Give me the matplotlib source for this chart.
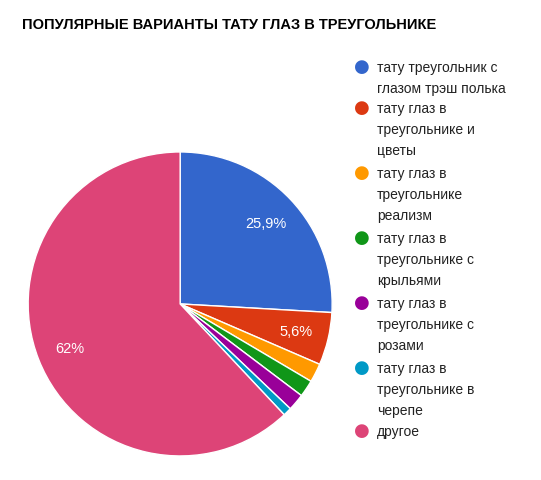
import matplotlib
matplotlib.use("Agg")
import matplotlib.pyplot as plt

plt.rcParams['font.family'] = ['Liberation Sans', 'DejaVu Sans']

title = "ПОПУЛЯРНЫЕ ВАРИАНТЫ ТАТУ ГЛАЗ В ТРЕУГОЛЬНИКЕ"
labels = ["тату треугольник с\nглазом трэш полька",
          "тату глаз в\nтреугольнике и\nцветы",
          "тату глаз в\nтреугольнике\nреализм",
          "тату глаз в\nтреугольнике с\nкрыльями",
          "тату глаз в\nтреугольнике с\nрозами",
          "тату глаз в\nтреугольнике в\nчерепе",
          "другое"]
values = [25.9, 5.6, 2.0, 1.8, 1.8, 0.9, 62.0]
colors = ["#3366cc", "#dc3912", "#ff9900", "#109618", "#990099", "#0099c6", "#dd4477"]

fig = plt.figure(figsize=(5.41, 4.81), dpi=100)
ax = fig.add_axes([0.052, 0.050, 0.562, 0.632])

def fmt(p):
    if p < 5:
        return ""
    s = f"{p:.1f}".replace(".", ",")
    if s.endswith(",0"):
        s = s[:-2]
    return s + "%"

wedges, texts, autotexts = ax.pie(values, colors=colors, startangle=90, counterclock=False,
                                  autopct=fmt, pctdistance=0.78,
                                  wedgeprops=dict(edgecolor="white", linewidth=1),
                                  textprops=dict(color="white", fontsize=10.5))
ax.set_aspect('equal')
ax.set_xlim(-1.0, 1.0)
ax.set_ylim(-1.0, 1.0)

fig.text(22/541, 1-25/481, title, fontsize=10.5, fontweight='bold', va='center', ha='left')

tops = [67, 108, 173, 238, 303, 368, 431]
for lab, col, y in zip(labels, colors, tops):
    fig.text(362/541, 1-(y)/481, "●", color=col, fontsize=13, ha='center', va='center',
             family='DejaVu Sans')
    fig.text(377/541, 1-(y-6)/481, lab, fontsize=10, color="#222222", ha='left', va='top',
             linespacing=1.65)

fig.savefig("out.png", dpi=100)
